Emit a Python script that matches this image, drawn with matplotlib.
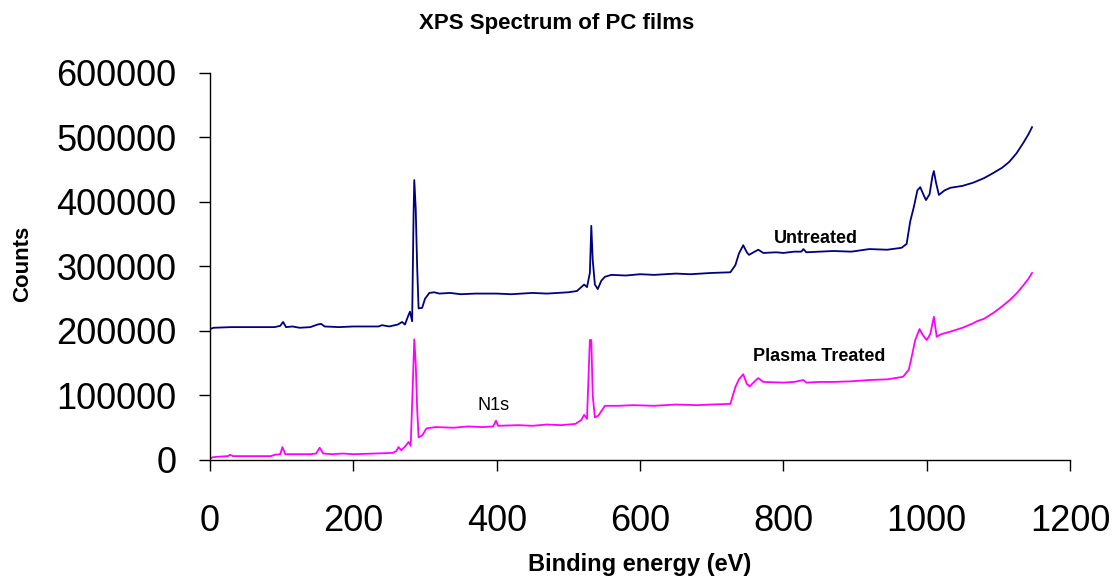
import matplotlib
matplotlib.use("Agg")
import matplotlib.pyplot as plt

# binding energy (eV) and counts for the untreated film
untreated_ev = [0, 5, 30, 90, 98, 102, 106, 115, 125, 140, 150, 155, 160, 180, 200,
                235, 240, 250, 262, 268, 272, 276, 279, 282, 284, 285, 287, 289, 291,
                296, 300, 306, 313, 320, 335, 350, 370, 400, 420, 450, 470, 500, 512,
                518, 522, 526, 530, 532, 534, 537, 541, 546, 551, 560, 580, 600, 620,
                650, 670, 700, 726, 733, 738, 744, 749, 752, 760, 765, 772, 790, 800,
                815, 825, 828, 832, 850, 870, 895, 920, 945, 965, 972, 977, 982, 987,
                991, 996, 999, 1004, 1008, 1010, 1013, 1017, 1025, 1033, 1050, 1065,
                1080, 1093, 1105, 1115, 1125, 1135, 1142, 1147]
untreated_counts = [203000, 205000, 206000, 206000, 208000, 214000, 206000, 207000,
                    205000, 206000, 210000, 211000, 207000, 206000, 207000, 207000,
                    209000, 207000, 210000, 214000, 210000, 222000, 230000, 215000,
                    380000, 434000, 390000, 300000, 235000, 236000, 250000, 259000,
                    260000, 258000, 259000, 257000, 258000, 258000, 257000, 259000,
                    258000, 260000, 262000, 268000, 272000, 268000, 290000, 363000,
                    310000, 272000, 265000, 278000, 284000, 287000, 286000, 288000,
                    287000, 289000, 288000, 290000, 291000, 302000, 320000, 333000,
                    322000, 318000, 323000, 326000, 321000, 322000, 321000, 323000,
                    323000, 327000, 322000, 323000, 324000, 323000, 327000, 326000,
                    329000, 335000, 370000, 392000, 418000, 423000, 410000, 403000,
                    412000, 440000, 448000, 430000, 411000, 418000, 422000, 425000,
                    430000, 437000, 445000, 453000, 462000, 475000, 492000, 505000,
                    516000]

# binding energy (eV) and counts for the plasma treated film
treated_ev = [0, 3, 10, 25, 28, 32, 85, 90, 98, 101, 105, 140, 148, 153, 158, 170,
              185, 200, 230, 255, 260, 263, 267, 273, 277, 280, 283, 285, 287, 289,
              291, 296, 302, 315, 340, 360, 380, 395, 399, 402, 430, 450, 470, 490,
              510, 518, 522, 526, 530, 532, 534, 537, 542, 551, 570, 590, 620, 650,
              680, 700, 726, 733, 738, 744, 749, 753, 760, 765, 772, 800, 815, 828,
              832, 850, 870, 895, 920, 945, 967, 975, 980, 984, 990, 995, 1000, 1005,
              1010, 1014, 1020, 1033, 1050, 1065, 1070, 1080, 1093, 1105, 1116, 1126,
              1135, 1142, 1147]
treated_counts = [2000, 4000, 5000, 6000, 8000, 6000, 6000, 8000, 9000, 20000, 9000,
                  9000, 10000, 19000, 10000, 9000, 10000, 9000, 10000, 11000, 14000,
                  20000, 15000, 22000, 28000, 22000, 120000, 187000, 150000, 80000,
                  35000, 38000, 49000, 51000, 50000, 52000, 51000, 52000, 61000,
                  53000, 54000, 53000, 55000, 54000, 56000, 62000, 70000, 64000,
                  186000, 186000, 100000, 66000, 69000, 84000, 84000, 85000, 84000,
                  86000, 85000, 86000, 87000, 113000, 125000, 133000, 118000, 114000,
                  122000, 127000, 121000, 120000, 121000, 124000, 120000, 121000,
                  121000, 122000, 124000, 125000, 129000, 140000, 165000, 186000,
                  203000, 193000, 186000, 195000, 222000, 191000, 195000, 199000,
                  205000, 212000, 215000, 219000, 228000, 238000, 248000, 259000,
                  271000, 281000, 290000]

x_ticks = [0, 200, 400, 600, 800, 1000, 1200]
y_ticks = [0, 100000, 200000, 300000, 400000, 500000, 600000]

plt.rcParams['font.family'] = ['Liberation Sans', 'DejaVu Sans']

fig = plt.figure(figsize=(11.13, 5.77), dpi=100)
ax = fig.add_axes([0.1887, 0.2028, 0.7727, 0.6707])

ax.plot(untreated_ev, untreated_counts, color='#000080', linewidth=1.3)
ax.plot(treated_ev, treated_counts, color='#FF00FF', linewidth=1.3)

ax.set_xlim(0, 1200)
ax.set_ylim(0, 600000)
ax.set_xticks(x_ticks)
ax.set_yticks(y_ticks)
ax.set_xticklabels([str(v) for v in x_ticks])
ax.set_yticklabels([str(v) for v in y_ticks])

for side in ['top', 'right']:
    ax.spines[side].set_visible(False)
for side in ['left', 'bottom']:
    ax.spines[side].set_linewidth(1.0)

ax.tick_params(axis='both', direction='out', length=8, width=1.0, labelsize=26)
ax.tick_params(axis='x', pad=24)
ax.tick_params(axis='y', pad=16)

# curve labels
ax.text(846, 344000, 'Untreated', fontsize=13, fontweight='bold', ha='center', va='center')
ax.text(850, 160000, 'Plasma Treated', fontsize=13, fontweight='bold', ha='center', va='center')
ax.text(396, 84000, 'N1s', fontsize=13, ha='center', va='center')

fig.text(0.5, 0.96, 'XPS Spectrum of PC films', fontsize=16, fontweight='bold',
         ha='center', va='center')
fig.text(0.575, 0.021, 'Binding energy (eV)', fontsize=17, fontweight='bold',
         ha='center', va='center')
fig.text(0.02, 0.542, 'Counts', fontsize=16, fontweight='bold', rotation=90,
         ha='center', va='center')

fig.savefig('out.png', dpi=100)
